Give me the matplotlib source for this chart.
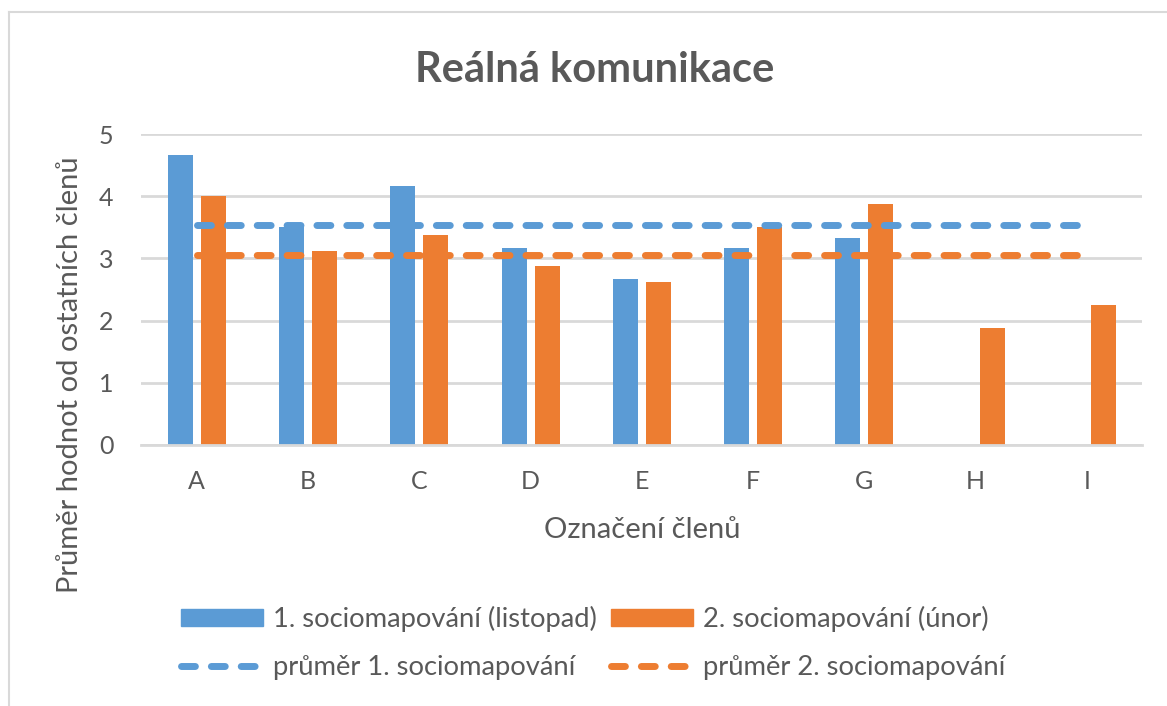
import matplotlib
matplotlib.use('Agg')
import matplotlib.pyplot as plt
from matplotlib.patches import Patch
from matplotlib.lines import Line2D
import numpy as np

# data
clenove = ['A', 'B', 'C', 'D', 'E', 'F', 'G', 'H', 'I']
listopad = [4.67, 3.5, 4.17, 3.17, 2.67, 3.17, 3.33, np.nan, np.nan]
unor = [4.0, 3.125, 3.375, 2.875, 2.625, 3.5, 3.875, 1.875, 2.25]
prumer1 = [3.53, 3.53, 3.53, 3.53, 3.53, 3.53, 3.53, 3.53, 3.53]
prumer2 = [3.06, 3.06, 3.06, 3.06, 3.06, 3.06, 3.06, 3.06, 3.06]

blue = '#5B9BD5'
orange = '#ED7D31'
grid = '#D9D9D9'
txt = '#595959'

plt.rcParams['font.family'] = ['Lato', 'DejaVu Sans']
plt.rcParams['lines.scale_dashes'] = False

fig = plt.figure(figsize=(11.67, 7.06), dpi=100)
ax = fig.add_axes([0.121, 0.370, 0.858, 0.440])

x = np.arange(len(clenove))
w = 0.225
ax.bar(x - 0.148, listopad, w, color=blue, zorder=2)
ax.bar(x + 0.148, unor, w, color=orange, zorder=2)

# round-capped dashes, ~21px visible dash / 9px gap
dash = (10, 11.5)
ax.plot(x, prumer1, color=blue, lw=5, dashes=dash, dash_capstyle='round', zorder=3)
ax.plot(x, prumer2, color=orange, lw=5, dashes=dash, dash_capstyle='round', zorder=3)

ax.set_xlim(-0.5, len(clenove) - 0.5)
ax.set_ylim(0, 5)
ax.set_yticks([0, 1, 2, 3, 4, 5])
ax.set_xticks(x)
ax.set_xticklabels(clenove)
ax.yaxis.grid(True, color=grid, lw=2, zorder=0)
ax.set_axisbelow(True)
for s in ['top', 'right', 'left']:
    ax.spines[s].set_visible(False)
ax.spines['bottom'].set_color(grid)
ax.spines['bottom'].set_linewidth(2)
ax.tick_params(length=0, labelsize=18, labelcolor=txt)
ax.tick_params(axis='x', pad=18)
ax.tick_params(axis='y', pad=20)

ax.set_xlabel('Označení členů', fontsize=21, color=txt)
ax.set_ylabel('Průměr hodnot od ostatních členů', fontsize=21, color=txt)
ax.xaxis.set_label_coords(0.5, -0.232)
ax.yaxis.set_label_coords(-0.058, 0.225)

fig.text(595 / 1167, 1 - 70 / 706, 'Reálná komunikace', ha='center', va='center',
         fontsize=30, fontweight='bold', color=txt)

handles = [
    Patch(color=blue, label='1. sociomapování (listopad)'),
    Line2D([], [], color=blue, lw=5, dashes=dash, dash_capstyle='round',
           label='průměr 1. sociomapování'),
    Patch(color=orange, label='2. sociomapování (únor)'),
    Line2D([], [], color=orange, lw=5, dashes=dash, dash_capstyle='round',
           label='průměr 2. sociomapování'),
]
leg = fig.legend(handles=handles, ncol=2, loc='center',
                 bbox_to_anchor=(593 / 1167, 1 - 643 / 706),
                 frameon=False, fontsize=19.7, handlelength=3.0, handleheight=0.57,
                 handletextpad=0.37, columnspacing=0.52, labelspacing=0.85,
                 labelcolor=txt)

# light chart frame (top and left edges visible in the crop)
fig.add_artist(Line2D([9 / 1167, 1.0], [1 - 12 / 706, 1 - 12 / 706],
                      transform=fig.transFigure, color=grid, lw=1.5))
fig.add_artist(Line2D([9 / 1167, 9 / 1167], [0.0, 1 - 12 / 706],
                      transform=fig.transFigure, color=grid, lw=1.5))

fig.savefig('out.png', dpi=100)
